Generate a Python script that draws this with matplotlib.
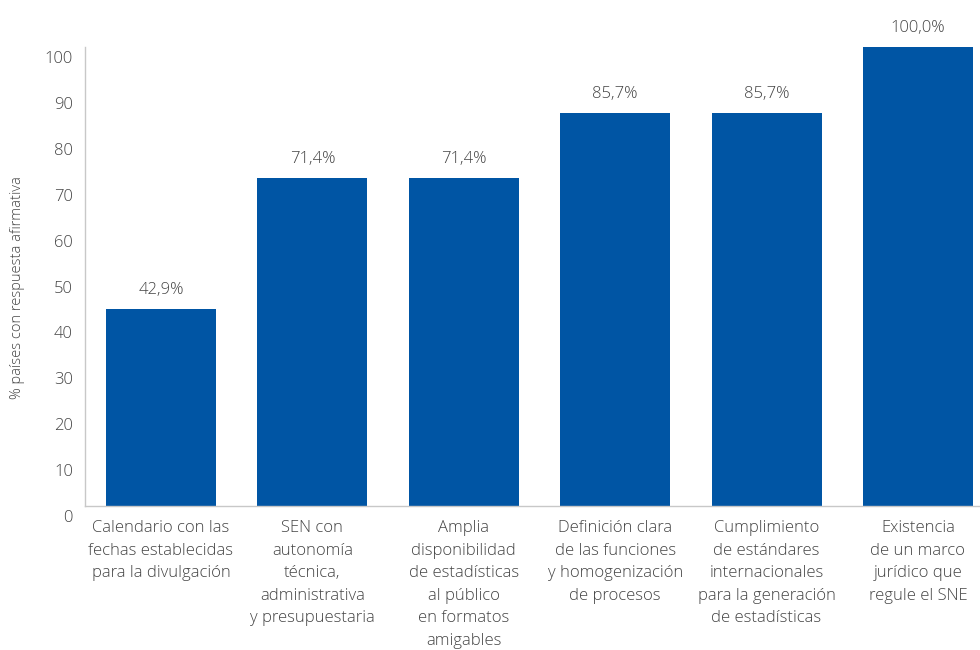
import matplotlib.pyplot as plt
import matplotlib.transforms as mtransforms

plt.rcParams['font.family'] = ['Open Sans', 'DejaVu Sans']
plt.rcParams['font.weight'] = 'light'

categorias = [
    "Calendario con las\nfechas establecidas\npara la divulgación",
    "SEN con\nautonomía\ntécnica,\nadministrativa\ny presupuestaria",
    "Amplia\ndisponibilidad\nde estadísticas\nal público\nen formatos\namigables",
    "Definición clara\nde las funciones\ny homogenización\nde procesos",
    "Cumplimiento\nde estándares\ninternacionales\npara la generación\nde estadísticas",
    "Existencia\nde un marco\njurídico que\nregule el SNE",
]
valores = [42.9, 71.4, 71.4, 85.7, 85.7, 100.0]
yticks = list(range(0, 101, 10))

azul = '#0055a4'
texto = '#444444'
gris = '#c8c8c8'

fig = plt.figure(figsize=(9.8, 6.5), dpi=100)
ax = fig.add_axes([0.0867, 0.2215, 0.9133, 0.7062])

x = list(range(len(valores)))
barras = ax.bar(x, valores, width=0.727, color=azul)

for b, v in zip(barras, valores):
    etiqueta = f"{v:.1f}%".replace('.', ',')
    ax.annotate(etiqueta, (b.get_x() + b.get_width() / 2, v),
                xytext=(0, 8), textcoords='offset points',
                ha='center', va='bottom', fontsize=12, color=texto)

ax.set_xlim(-0.502, 5.41)
ax.set_ylim(0, 100)
ax.set_yticks(yticks)
ax.set_yticklabels([])
ax.set_xticks(x)
ax.set_xticklabels(categorias, fontsize=12, color=texto, linespacing=1.55)

# y labels drawn by hand, sitting a little below their grid value
trans = mtransforms.blended_transform_factory(ax.transAxes, ax.transData)
trans = trans + mtransforms.ScaledTranslation(-12 / 100, -12 / 100, fig.dpi_scale_trans)
for t in yticks:
    ax.text(0, t, str(t), transform=trans, ha='right', va='center',
            fontsize=12, color=texto)

ax.tick_params(axis='y', length=0)
ax.tick_params(axis='x', length=0, pad=10)

for lado in ('top', 'right'):
    ax.spines[lado].set_visible(False)
for lado in ('left', 'bottom'):
    ax.spines[lado].set_color(gris)
    ax.spines[lado].set_linewidth(1)

fig.text(0.018, 0.557, "% países con respuesta afirmativa", rotation=90,
         ha='center', va='center', fontsize=10.5, color=texto)

fig.savefig('out.png', dpi=100)
